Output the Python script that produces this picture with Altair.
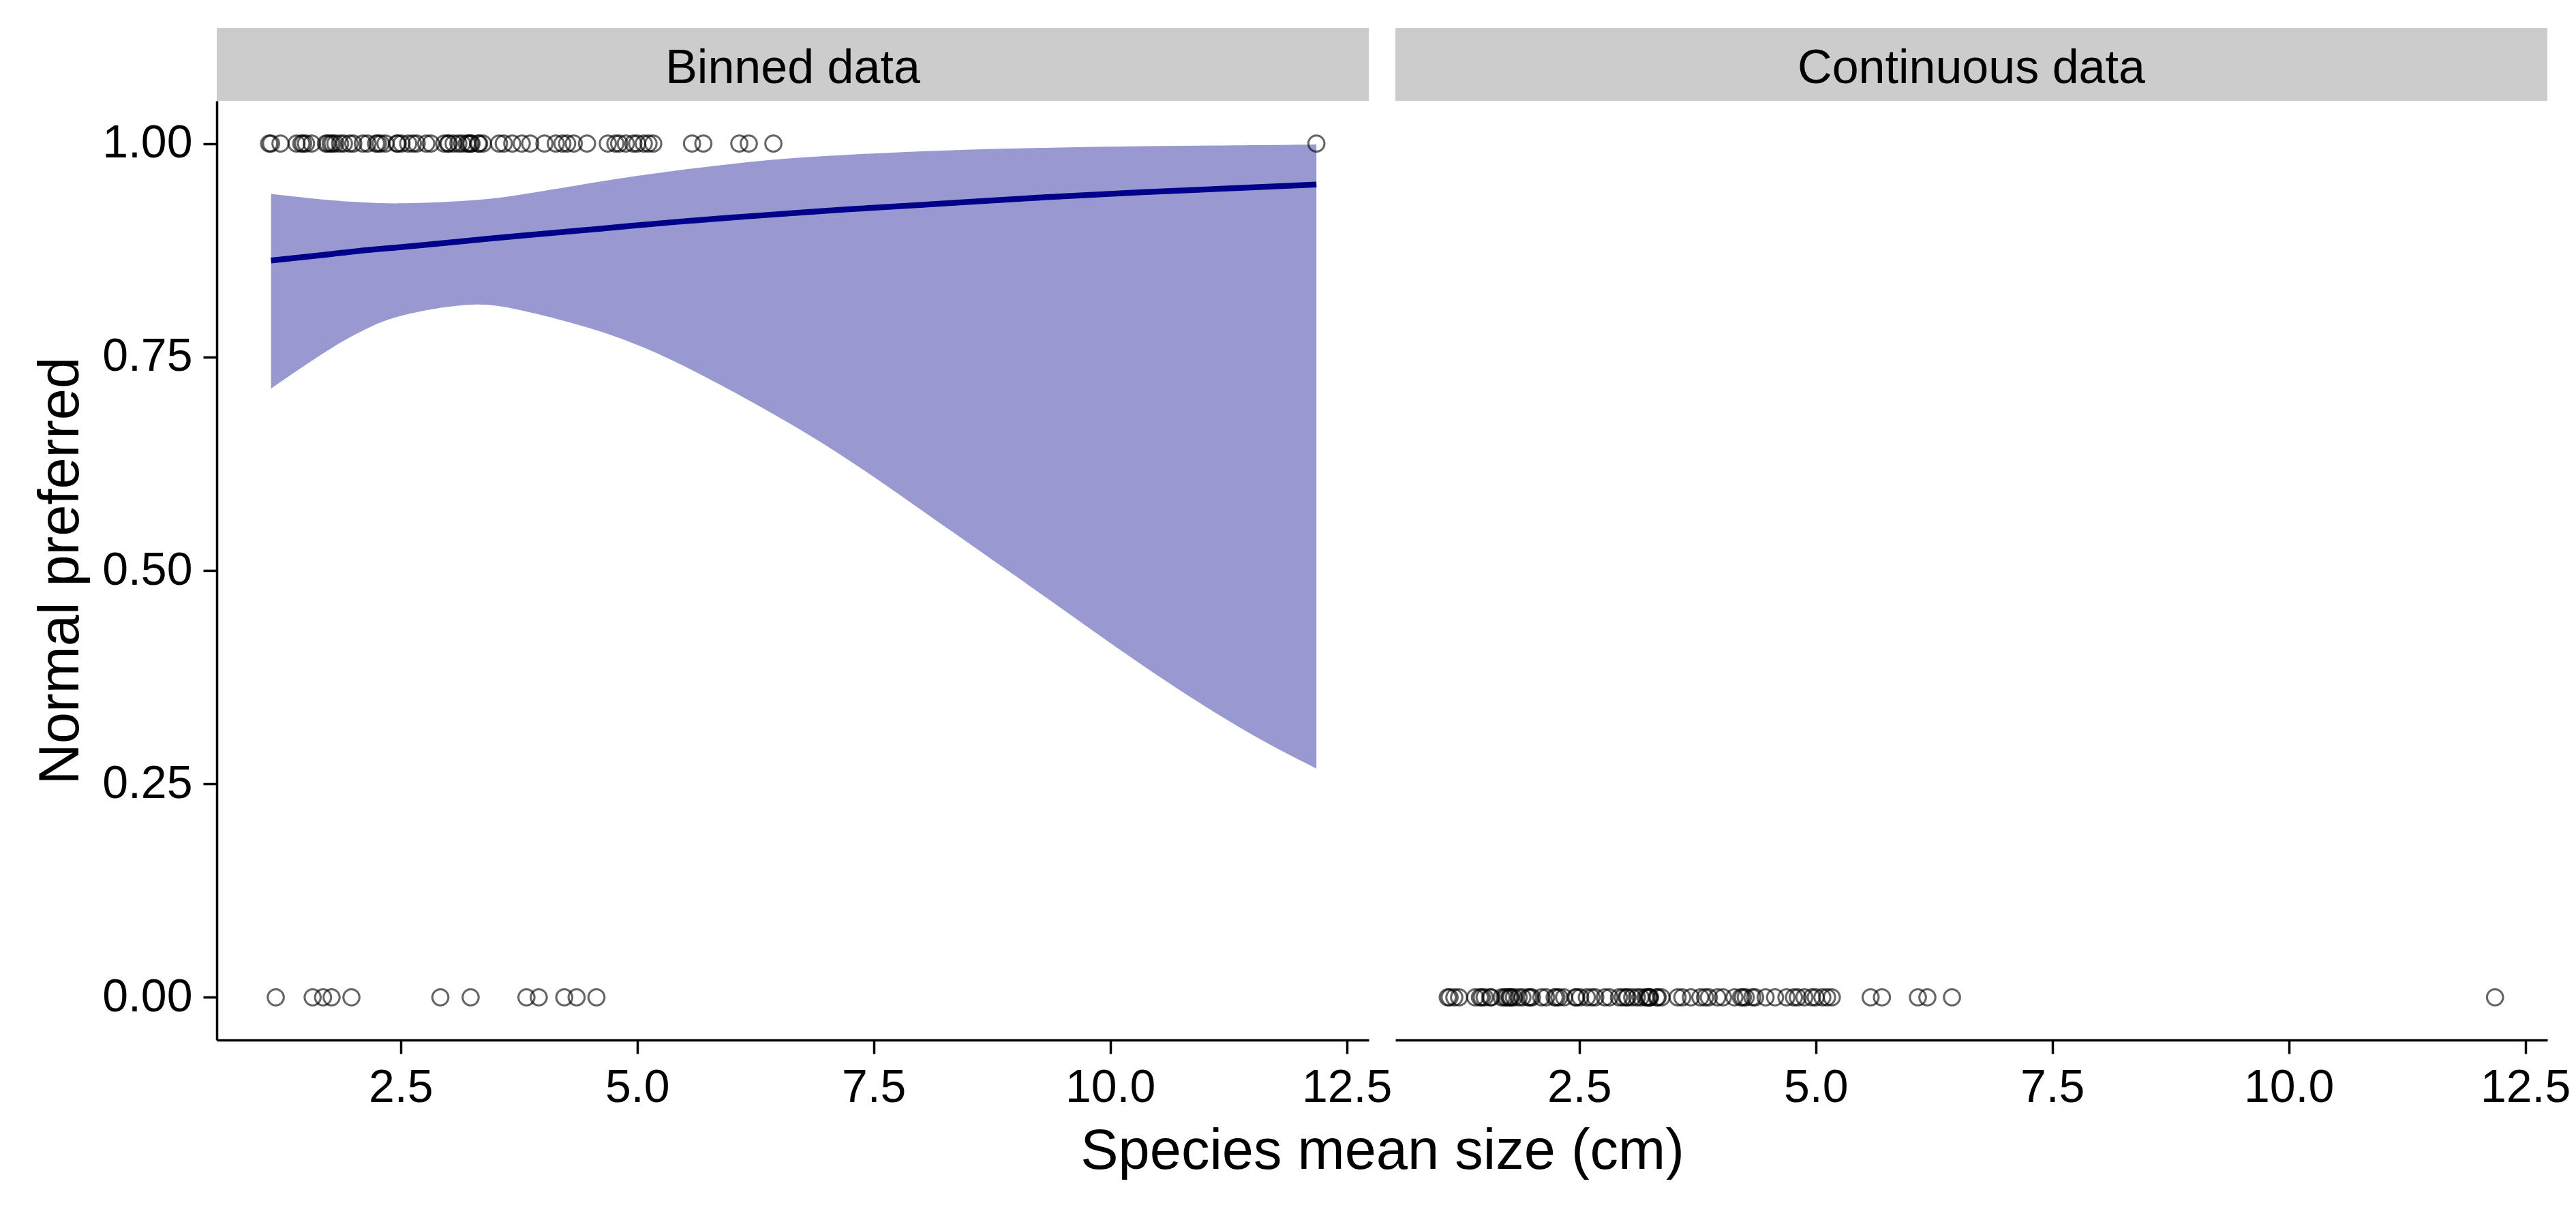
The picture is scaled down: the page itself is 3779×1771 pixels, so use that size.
import pandas as pd
import altair as alt

# species mean size (cm) of species where normal was preferred (y = 1) / not preferred (y = 0)
PREF_SIZES = [
    1.11, 1.13, 1.23, 1.40, 1.45, 1.47, 1.50, 1.56, 1.71, 1.73, 1.76, 1.78, 1.81, 1.86, 1.90,
    1.96, 2.00, 2.10, 2.15, 2.24, 2.26, 2.29, 2.34, 2.46, 2.47, 2.51, 2.58, 2.63, 2.67, 2.77,
    2.82, 2.96, 3.00, 3.01, 3.06, 3.11, 3.15, 3.20, 3.22, 3.24, 3.25, 3.32, 3.33, 3.37, 3.54,
    3.59, 3.68, 3.78, 3.87, 4.02, 4.14, 4.21, 4.26, 4.33, 4.47, 4.69, 4.77, 4.81, 4.88, 4.96,
    5.00, 5.07, 5.12, 5.17, 5.58, 5.70, 6.08, 6.18, 6.44, 12.18,
]
NOTPREF_SIZES = [1.18, 1.57, 1.68, 1.77, 1.98, 2.92, 3.24, 3.83, 3.96, 4.23, 4.36, 4.57]

# logistic fit with 95% band (binned panel)
FIT_X = [1.13, 1.72, 2.12, 2.53, 3.19, 3.76, 4.58, 5.39, 6.33, 7.24, 8.27, 9.30, 10.34, 11.37, 12.18]
FIT_Y = [0.863, 0.870, 0.875, 0.879, 0.886, 0.892, 0.900, 0.908, 0.916, 0.923, 0.930, 0.937, 0.943,
         0.948, 0.952]
FIT_UPPER = [0.941, 0.934, 0.931, 0.930, 0.933, 0.940, 0.955, 0.968, 0.980, 0.987, 0.992, 0.995, 0.997,
             0.998, 0.999]
FIT_LOWER = [0.713, 0.757, 0.782, 0.799, 0.811, 0.805, 0.781, 0.745, 0.690, 0.629, 0.550, 0.470, 0.389,
             0.316, 0.268]

PANELS = ["Binned data", "Continuous data"]
Y_TICKS = [0, 0.25, 0.5, 0.75, 1]
X_TICKS = [2.5, 5, 7.5, 10, 12.5]

FONT = "Liberation Sans"
NAVY = "#00008B"
W, H, GAP = 1690, 1378, 39

all_sizes = PREF_SIZES + NOTPREF_SIZES
lo, hi = min(all_sizes), max(all_sizes)
pad = 0.05 * (hi - lo)
x_scale = alt.Scale(domain=[lo - pad, hi + pad], nice=False, zero=False)
y_scale = alt.Scale(domain=[-0.05, 1.05], nice=False, zero=False)

binned = pd.DataFrame({
    "size": PREF_SIZES + NOTPREF_SIZES,
    "pref": [1] * len(PREF_SIZES) + [0] * len(NOTPREF_SIZES),
})
continuous = pd.DataFrame({"size": all_sizes, "pref": [0] * len(all_sizes)})
fit = pd.DataFrame({"size": FIT_X, "fit": FIT_Y, "upper": FIT_UPPER, "lower": FIT_LOWER})

# the shared x title sits under the left axis but is centred across both panels
left_x_axis = alt.Axis(values=X_TICKS, format=".1f", title="Species mean size (cm)",
                       titleX=W + GAP / 2, titleAnchor="middle")
right_x_axis = alt.Axis(values=X_TICKS, format=".1f", title=None)
left_y_axis = alt.Axis(values=Y_TICKS, format=".2f", title="Normal preferred")


def strip(label):
    df = pd.DataFrame({"label": [label]})
    box = alt.Chart(df).mark_rect(color="#CCCCCC").encode(
        x=alt.value(0), x2=alt.value(W), y=alt.value(-107), y2=alt.value(0)
    )
    txt = alt.Chart(df).mark_text(
        font=FONT, fontSize=70, color="black", align="center", baseline="alphabetic"
    ).encode(x=alt.value(W / 2), y=alt.value(-26), text="label:N")
    return box + txt


def points(df, x_axis, y_axis):
    return alt.Chart(df).mark_point(
        shape="circle", filled=False, size=560, strokeWidth=3, color="black", opacity=0.6
    ).encode(
        x=alt.X("size:Q", scale=x_scale, axis=x_axis),
        y=alt.Y("pref:Q", scale=y_scale, axis=y_axis),
    )


band = alt.Chart(fit).mark_area(color=NAVY, opacity=0.4, interpolate="natural").encode(
    x=alt.X("size:Q", scale=x_scale, axis=left_x_axis),
    y=alt.Y("upper:Q", scale=y_scale, axis=left_y_axis),
    y2="lower:Q",
)
line = alt.Chart(fit).mark_line(color=NAVY, strokeWidth=8.5, interpolate="natural").encode(
    x=alt.X("size:Q", scale=x_scale, axis=left_x_axis),
    y=alt.Y("fit:Q", scale=y_scale, axis=left_y_axis),
)

left = alt.layer(
    strip(PANELS[0]), band, line, points(binned, left_x_axis, left_y_axis)
).properties(width=W, height=H)

right = alt.layer(
    strip(PANELS[1]), points(continuous, right_x_axis, None)
).properties(width=W, height=H)

chart = alt.hconcat(left, right, spacing=GAP, bounds="flush").properties(
    padding={"left": 40, "top": 33, "right": 0, "bottom": 0},
).configure(font=FONT).configure_view(stroke=None).configure_axis(
    grid=False,
    domainColor="black", domainWidth=3.5,
    tickColor="black", tickWidth=3.5, tickSize=20,
    labelFont=FONT, labelFontSize=68, labelColor="black", labelPadding=16,
    labelFlush=False, labelOverlap=False,
    titleFont=FONT, titleFontSize=83, titleFontWeight="normal", titleColor="black",
    titlePadding=18,
)

chart.save("out.html", embed_options={"renderer": "svg", "actions": False})
